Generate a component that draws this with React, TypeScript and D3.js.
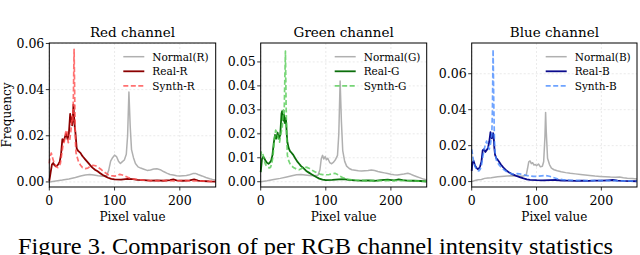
import React from 'react';
import * as d3 from 'd3';

// pixel value / frequency pairs
const normalR = [[0,0],[5,0.0002],[10,0.0004],[20,0.0008],[30,0.0013],[40,0.0019],[48,0.0026],[55,0.003],[62,0.0032],[68,0.003],[75,0.0027],[82,0.0025],[88,0.0028],[91,0.005],[94,0.009],[97,0.0105],[100,0.0116],[103,0.011],[106,0.009],[109,0.008],[112,0.0088],[115,0.0095],[118,0.012],[120,0.02],[122,0.039],[124,0.024],[126,0.014],[129,0.0105],[132,0.008],[136,0.0065],[140,0.006],[145,0.0055],[150,0.005],[155,0.0052],[160,0.0056],[165,0.0057],[170,0.0053],[175,0.0045],[180,0.0038],[185,0.0032],[190,0.003],[195,0.0027],[200,0.0026],[205,0.0027],[210,0.0028],[215,0.0031],[220,0.0036],[224,0.0037],[228,0.0032],[234,0.0026],[240,0.0019],[246,0.0014],[250,0.0011],[255,0.0008]];
const realR = [[0,0.0005],[2,0.004],[4,0.0075],[6,0.0082],[8,0.0072],[10,0.0068],[12,0.007],[14,0.0078],[16,0.0088],[18,0.012],[20,0.0185],[22,0.0175],[24,0.0195],[26,0.021],[28,0.0185],[30,0.021],[32,0.0295],[33,0.026],[34,0.028],[35,0.0245],[36,0.027],[37,0.0335],[38,0.028],[39,0.024],[40,0.0215],[41,0.018],[42,0.0145],[44,0.0135],[46,0.013],[48,0.0125],[50,0.0115],[52,0.0108],[55,0.0098],[58,0.0088],[61,0.0078],[64,0.0068],[67,0.006],[70,0.0053],[74,0.0046],[78,0.0038],[82,0.003],[86,0.0024],[90,0.0018],[95,0.0013],[100,0.0011],[110,0.001],[120,0.0013],[128,0.0012],[135,0.0009],[145,0.0008],[155,0.0006],[165,0.0007],[175,0.0005],[185,0.0008],[190,0.0011],[195,0.0007],[205,0.0005],[215,0.0007],[222,0.0011],[228,0.0006],[235,0.0004],[245,0.0002],[255,0.0001]];
const synthR = [[0,0.008],[1,0.0105],[3,0.0125],[5,0.0105],[7,0.0085],[9,0.0075],[11,0.0065],[13,0.0062],[15,0.0068],[17,0.008],[19,0.012],[21,0.016],[23,0.0175],[25,0.0215],[27,0.0225],[29,0.017],[31,0.0175],[33,0.022],[35,0.0285],[36,0.026],[37,0.038],[38,0.0575],[39,0.035],[40,0.0175],[41,0.0125],[43,0.0105],[45,0.0085],[48,0.0072],[51,0.0062],[55,0.0058],[59,0.006],[63,0.0068],[67,0.0072],[71,0.007],[75,0.0063],[79,0.0055],[83,0.0045],[87,0.0038],[91,0.003],[95,0.0027],[100,0.0025],[104,0.0027],[108,0.0033],[112,0.003],[116,0.0026],[120,0.002],[125,0.0015],[130,0.0012],[140,0.0009],[150,0.0006],[160,0.0005],[170,0.0005],[180,0.0006],[190,0.0004],[200,0.0005],[210,0.0006],[220,0.0004],[230,0.0005],[240,0.0003],[250,0.0002],[255,0.0002]];

const normalG = [[0,0],[5,0.0002],[10,0.0004],[20,0.0009],[30,0.0014],[40,0.002],[48,0.0025],[55,0.0029],[62,0.003],[68,0.0028],[75,0.0026],[82,0.0025],[88,0.0027],[91,0.005],[93,0.0095],[95,0.011],[97,0.0095],[99,0.0105],[101,0.0092],[103,0.0098],[106,0.008],[109,0.0075],[112,0.0082],[115,0.0093],[118,0.011],[120,0.02],[122,0.042],[124,0.025],[126,0.013],[129,0.0085],[132,0.0065],[136,0.0055],[140,0.005],[145,0.0048],[150,0.0046],[155,0.0045],[160,0.0046],[165,0.0047],[170,0.0049],[175,0.0047],[180,0.0043],[185,0.004],[190,0.0037],[195,0.0034],[200,0.0031],[205,0.0029],[210,0.0028],[215,0.003],[220,0.0032],[226,0.0035],[230,0.0032],[235,0.0026],[240,0.0021],[245,0.0016],[250,0.0011],[255,0.0007]];
const realG = [[0,0.004],[2,0.0095],[4,0.0105],[6,0.0095],[8,0.0085],[10,0.0078],[12,0.0075],[14,0.008],[16,0.0088],[18,0.011],[20,0.016],[22,0.0195],[24,0.018],[26,0.0205],[28,0.018],[30,0.0195],[32,0.0285],[33,0.0295],[34,0.026],[35,0.0255],[36,0.028],[37,0.0245],[38,0.0265],[39,0.0255],[40,0.02],[41,0.0165],[43,0.014],[45,0.0128],[47,0.0122],[50,0.0112],[53,0.0098],[56,0.0085],[59,0.0075],[62,0.0065],[66,0.0056],[70,0.0045],[74,0.0038],[78,0.0031],[82,0.0025],[86,0.0019],[90,0.0013],[95,0.0009],[100,0.0007],[110,0.0008],[120,0.001],[128,0.0011],[135,0.0008],[145,0.0006],[155,0.0005],[165,0.0006],[175,0.0004],[185,0.0007],[195,0.0009],[205,0.0006],[212,0.001],[218,0.0007],[225,0.0005],[235,0.0004],[245,0.0003],[255,0.0001]];
const synthG = [[0,0.0105],[1,0.0125],[3,0.012],[5,0.0095],[7,0.0075],[9,0.0065],[11,0.006],[13,0.0058],[15,0.006],[17,0.0075],[19,0.011],[21,0.0175],[23,0.0215],[25,0.0205],[27,0.018],[29,0.0165],[31,0.02],[33,0.0225],[35,0.03],[36,0.028],[37,0.042],[38,0.0545],[39,0.033],[40,0.018],[41,0.011],[43,0.0088],[45,0.0075],[48,0.0065],[51,0.0058],[55,0.0053],[59,0.005],[63,0.0055],[67,0.0062],[71,0.006],[75,0.0055],[79,0.0048],[83,0.0042],[87,0.0036],[91,0.0032],[95,0.003],[100,0.0029],[105,0.003],[110,0.0033],[114,0.0035],[118,0.003],[122,0.0023],[127,0.0016],[132,0.0011],[140,0.0008],[150,0.0006],[160,0.0005],[170,0.0005],[180,0.0004],[190,0.0005],[200,0.0004],[210,0.0005],[220,0.0004],[230,0.0004],[240,0.0003],[250,0.0002],[255,0.0002]];

const normalB = [[0,0],[5,0.0006],[10,0.001],[15,0.0012],[20,0.0018],[25,0.002],[30,0.0022],[40,0.0027],[50,0.003],[60,0.0032],[70,0.0031],[78,0.003],[84,0.0035],[86,0.007],[88,0.011],[90,0.0115],[92,0.01],[94,0.0105],[96,0.0092],[98,0.0095],[100,0.0088],[103,0.0098],[106,0.0082],[109,0.0085],[111,0.011],[113,0.025],[114,0.0385],[115,0.028],[117,0.013],[120,0.0095],[123,0.0075],[127,0.0066],[132,0.006],[138,0.0055],[145,0.005],[152,0.0046],[160,0.0043],[168,0.004],[175,0.0037],[182,0.0034],[190,0.0031],[198,0.0029],[206,0.0027],[214,0.0025],[222,0.0024],[228,0.0026],[234,0.0022],[240,0.0019],[248,0.0017],[255,0.0015]];
const realB = [[0,0.006],[1,0.0105],[3,0.0115],[5,0.009],[7,0.0078],[9,0.007],[11,0.0072],[13,0.0085],[15,0.011],[17,0.0175],[19,0.018],[21,0.0165],[23,0.0175],[25,0.0185],[27,0.022],[29,0.0275],[30,0.026],[31,0.024],[32,0.0255],[33,0.027],[34,0.0245],[35,0.0185],[36,0.015],[38,0.013],[40,0.0122],[42,0.0112],[45,0.0095],[48,0.0082],[51,0.007],[54,0.006],[58,0.005],[62,0.0042],[66,0.0036],[70,0.003],[75,0.0024],[80,0.0018],[85,0.0013],[90,0.001],[100,0.0008],[110,0.0007],[120,0.0008],[130,0.0009],[140,0.0006],[150,0.0005],[160,0.0004],[170,0.0005],[180,0.0004],[190,0.0006],[200,0.0005],[210,0.0007],[218,0.0009],[225,0.0006],[235,0.0004],[245,0.0003],[255,0.0002]];
const synthB = [[0,0.018],[1,0.0155],[3,0.011],[5,0.0085],[7,0.007],[9,0.0062],[11,0.006],[13,0.0068],[15,0.0088],[17,0.0135],[19,0.0175],[21,0.0205],[23,0.0225],[25,0.0195],[27,0.018],[29,0.021],[31,0.026],[32,0.04],[33,0.0735],[34,0.045],[35,0.024],[36,0.0165],[38,0.012],[40,0.0105],[43,0.009],[46,0.0078],[50,0.0065],[54,0.0055],[58,0.0048],[62,0.0043],[66,0.0042],[70,0.0044],[74,0.0043],[78,0.004],[84,0.0035],[90,0.0031],[96,0.0029],[102,0.003],[108,0.0032],[114,0.0034],[120,0.003],[126,0.0023],[132,0.0016],[140,0.0011],[150,0.0008],[160,0.0007],[170,0.0006],[180,0.0006],[190,0.0005],[200,0.0005],[210,0.0005],[220,0.0005],[230,0.0004],[240,0.0004],[250,0.0003],[255,0.0003]];

const xTicks = [0, 100, 200];
const yTicksR = [0, 0.02, 0.04, 0.06];
const yTicksG = [0, 0.01, 0.02, 0.03, 0.04, 0.05];
const yTicksB = [0, 0.02, 0.04, 0.06];
const titles = ['Red channel', 'Green channel', 'Blue channel'];
const legendR = ['Normal(R)', 'Real-R', 'Synth-R'];
const legendG = ['Normal(G)', 'Real-G', 'Synth-G'];
const legendB = ['Normal(B)', 'Real-B', 'Synth-B'];
const caption = 'Figure 3. Comparison of per RGB channel intensity statistics';

const FONT = 'DejaVu Serif';
const TOP = 43;
const BOTTOM = 187;

const panels = [
  { left: 49.3, right: 215.7, ymin: -0.0022, ymax: 0.0602, ticks: yTicksR, series: [normalR, realR, synthR], labels: legendR, real: '#8b0000', synth: '#ff4d4d' },
  { left: 260.7, right: 426.7, ymin: -0.0022, ymax: 0.0579, ticks: yTicksG, series: [normalG, realG, synthG], labels: legendG, real: '#0b6e0b', synth: '#55cc55' },
  { left: 471.7, right: 637, ymin: -0.003, ymax: 0.0771, ticks: yTicksB, series: [normalB, realB, synthB], labels: legendB, real: '#0a0a8c', synth: '#4a8cff' },
];

const Panel = ({ p, title, showY }) => {
  const x = d3.scaleLinear().domain([0, 255]).range([p.left, p.right]);
  const y = d3.scaleLinear().domain([p.ymin, p.ymax]).range([BOTTOM, TOP]);
  const line = d3.line().x(d => x(d[0])).y(d => y(d[1]));
  const styles = [
    { stroke: '#b0b0b0', width: 1.5, dash: null, opacity: 1 },
    { stroke: p.real, width: 1.8, dash: null, opacity: 1 },
    { stroke: p.synth, width: 1.7, dash: '5,2.5', opacity: 0.8 },
  ];
  const cx = (p.left + p.right) / 2;
  return (
    <g>
      <clipPath id={'clip' + title}>
        <rect x={p.left} y={TOP} width={p.right - p.left} height={BOTTOM - TOP} />
      </clipPath>
      {/* grid */}
      {xTicks.map(t => (
        <line key={'gx' + t} x1={x(t)} x2={x(t)} y1={TOP} y2={BOTTOM} stroke="#e4e4e4" strokeWidth={0.8} strokeDasharray="2,2" />
      ))}
      {p.ticks.map(t => (
        <line key={'gy' + t} x1={p.left} x2={p.right} y1={y(t)} y2={y(t)} stroke="#e4e4e4" strokeWidth={0.8} strokeDasharray="2,2" />
      ))}
      <g clipPath={`url(#clip${title})`}>
        {p.series.map((s, i) => (
          <path key={i} d={line(s)} fill="none" stroke={styles[i].stroke} strokeWidth={styles[i].width}
            strokeDasharray={styles[i].dash || undefined} strokeOpacity={styles[i].opacity} strokeLinejoin="round" />
        ))}
      </g>
      <rect x={p.left} y={TOP} width={p.right - p.left} height={BOTTOM - TOP} fill="none" stroke="#000" strokeWidth={1} />
      {/* x axis */}
      {xTicks.map(t => (
        <g key={'tx' + t}>
          <line x1={x(t)} x2={x(t)} y1={BOTTOM} y2={BOTTOM + 3.5} stroke="#000" strokeWidth={0.8} />
          <text x={x(t)} y={204.5} textAnchor="middle" fontFamily={FONT} fontSize={12.5}>{t}</text>
        </g>
      ))}
      <text x={cx} y={221} textAnchor="middle" fontFamily={FONT} fontSize={12}>Pixel value</text>
      {/* y axis */}
      {p.ticks.map(t => (
        <g key={'ty' + t}>
          <line x1={p.left - 3.5} x2={p.left} y1={y(t)} y2={y(t)} stroke="#000" strokeWidth={0.8} />
          <text x={p.left - 5} y={y(t) + 4.3} textAnchor="end" fontFamily={FONT} fontSize={12.5}>{t.toFixed(2)}</text>
        </g>
      ))}
      {showY && (
        <text transform={`translate(10.5,${(TOP + BOTTOM) / 2}) rotate(-90)`} textAnchor="middle" fontFamily={FONT} fontSize={12}>Frequency</text>
      )}
      <text x={cx} y={37} textAnchor="middle" fontFamily={FONT} fontSize={13.5}>{title}</text>
      {/* legend */}
      {p.labels.map((lab, i) => {
        const ly = 56.7 + i * 14.6;
        return (
          <g key={lab}>
            <line x1={p.left + 74} x2={p.left + 95} y1={ly} y2={ly} stroke={styles[i].stroke} strokeWidth={styles[i].width}
              strokeDasharray={styles[i].dash || undefined} strokeOpacity={styles[i].opacity} />
            <text x={p.left + 103} y={ly + 3.8} fontFamily={FONT} fontSize={10.5}>{lab}</text>
          </g>
        );
      })}
    </g>
  );
};

export default function App() {
  return (
    <svg width={640} height={255} style={{ position: 'fixed', left: 0, top: 0, background: '#fff' }}>
      <rect width={640} height={255} fill="#fff" />
      {panels.map((p, i) => (
        <Panel key={i} p={p} title={titles[i]} showY={i === 0} />
      ))}
      <text x={18} y={254} fontFamily="Liberation Serif" fontSize={23} textLength={595} lengthAdjust="spacingAndGlyphs">{caption}</text>
    </svg>
  );
}
